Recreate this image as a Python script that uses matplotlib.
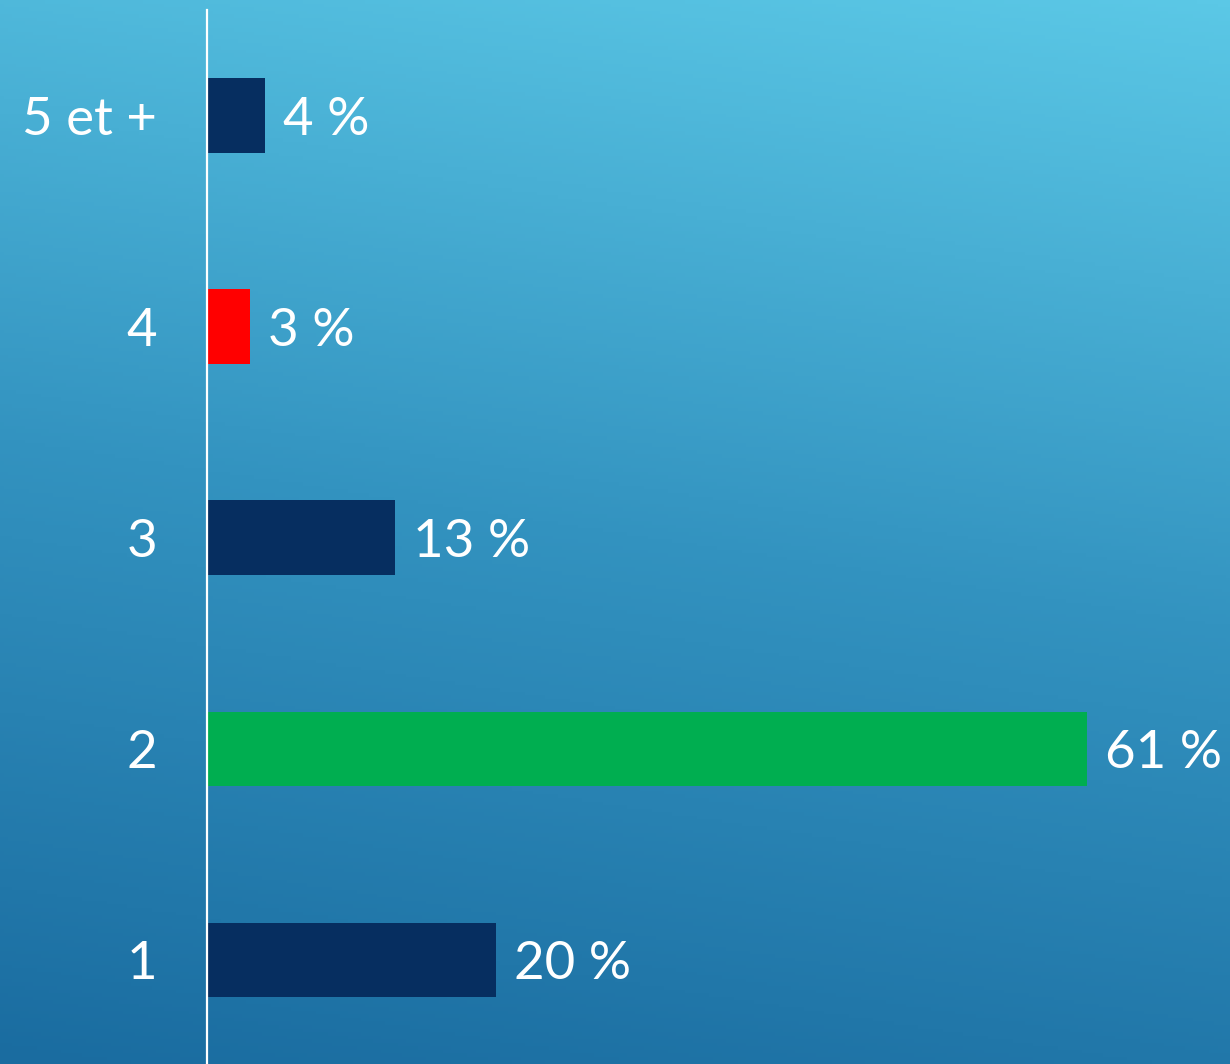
import numpy as np
import matplotlib
matplotlib.use("Agg")
import matplotlib.pyplot as plt
from matplotlib.colors import LinearSegmentedColormap

categories = ["1", "2", "3", "4", "5 et +"]
values = [20, 61, 13, 3, 4]
value_labels = ["20 %", "61 %", "13 %", "3 %", "4 %"]
bar_colors = ["#062E60", "#00AE50", "#062E60", "#FF0000", "#062E60"]

plt.rcParams['font.family'] = ['Lato', 'DejaVu Sans']

W, H = 1230, 1064
fig = plt.figure(figsize=(W / 100, H / 100), dpi=100)

# background gradient (diagonal: light top-right, dark bottom-left)
bg = fig.add_axes([0, 0, 1, 1])
yy, xx = np.mgrid[0:1:300j, 0:1:300j]
t = 0.85 * yy + 0.15 * xx
cmap = LinearSegmentedColormap.from_list("bg", ["#1A6CA0", "#3393C0", "#5BC8E6"])
bg.imshow(t, cmap=cmap, origin="lower", extent=[0, 1, 0, 1], aspect="auto", vmin=0, vmax=1)
bg.set_axis_off()

ax = fig.add_axes([207 / W, 0, (W - 207) / W, 1054 / H])
ax.set_facecolor("none")
y = np.arange(len(categories))
ax.barh(y, values, height=0.355, color=bar_colors)
ax.set_xlim(0, 70.9)
ax.set_ylim(-0.493, 4.502)
ax.set_yticks(y)
ax.set_yticklabels(categories, va="center_baseline")
ax.tick_params(axis="y", length=0, pad=36, labelsize=38, labelcolor="white")
ax.set_xticks([])
for s in ["top", "right", "bottom"]:
    ax.spines[s].set_visible(False)
ax.spines["left"].set_color("white")
ax.spines["left"].set_linewidth(1.6)

for yi, v, lbl in zip(y, values, value_labels):
    ax.annotate(lbl, (v, yi), xytext=(13, 0), textcoords="offset points",
                va="center_baseline", ha="left", color="white", fontsize=38)

fig.savefig("out.png", dpi=100)
